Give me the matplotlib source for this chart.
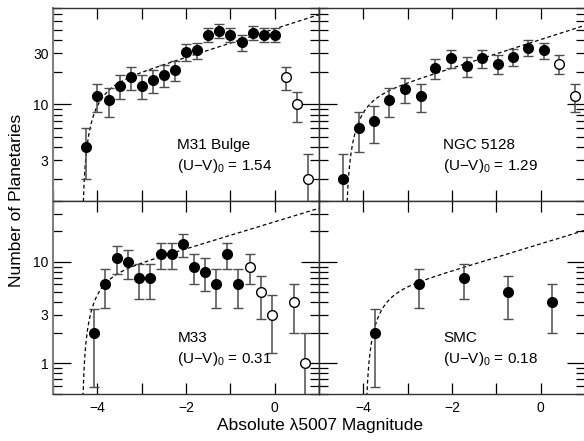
import numpy as np
import matplotlib
matplotlib.use('Agg')
from matplotlib import pyplot as plt
from matplotlib.ticker import FixedLocator, FuncFormatter, MultipleLocator, NullLocator

plt.rcParams['font.family'] = ['Liberation Sans', 'DejaVu Sans']
plt.rcParams['mathtext.fontset'] = 'custom'
plt.rcParams['mathtext.rm'] = 'Liberation Sans'
plt.rcParams['mathtext.it'] = 'Liberation Sans:italic'

# M31 bulge
m31X = [-4.25, -4.0, -3.75, -3.5, -3.25, -3.0, -2.75, -2.5, -2.25, -2.0,
        -1.75, -1.5, -1.25, -1.0, -0.75, -0.5, -0.25, 0.0]
m31N = [4, 12, 11, 15, 18, 15, 17, 19, 21, 31, 32, 45, 49, 45, 38, 47, 45, 45]
m31OpenX = [0.25, 0.5, 0.75]
m31OpenN = [18, 10, 2]

# NGC 5128
ngcX = [-4.47, -4.11, -3.76, -3.42, -3.06, -2.70, -2.38, -2.02, -1.67, -1.33,
        -0.97, -0.62, -0.29, 0.07]
ngcN = [2, 6, 7, 11, 14, 12, 22, 27, 23, 27, 24, 28, 34, 32]
ngcOpenX = [0.41, 0.76]
ngcOpenN = [24, 12]

# M33
m33X = [-4.07, -3.82, -3.57, -3.32, -3.07, -2.82, -2.57, -2.32, -2.07, -1.82,
        -1.57, -1.32, -1.07, -0.82]
m33N = [2, 6, 11, 10, 7, 7, 12, 12, 15, 9, 8, 6, 12, 6]
m33OpenX = [-0.57, -0.32, -0.07, 0.43, 0.68]
m33OpenN = [9, 5, 3, 4, 1]

# SMC
smcX = [-3.74, -2.74, -1.74, -0.74, 0.26]
smcN = [2, 6, 7, 5, 4]

# PNLF fit: cutoff M* and normalisation
fits = {'m31': (-4.35, 51.0), 'ngc': (-4.41, 40.5), 'm33': (-4.35, 24.9), 'smc': (-3.96, 15.1)}


def panel(ax, x, n, xo, no, fit, name, uv):
    mstar, c = fit
    m = np.linspace(mstar + 1e-4, 1.05, 600)
    ax.plot(m, c * np.exp(0.307 * m) * (1 - np.exp(3 * (mstar - m))), color='k',
            ls=(0, (3.0, 2.2)), lw=0.9, zorder=1)
    n = np.array(n, dtype=float)
    ax.errorbar(x, n, yerr=np.sqrt(n), fmt='o', color='k', ms=7, ecolor='0.3',
                elinewidth=1.1, capsize=3.5, capthick=1.0, zorder=3)
    if xo:
        no = np.array(no, dtype=float)
        ax.errorbar(xo, no, yerr=np.sqrt(no), fmt='o', mfc='white', mec='k', mew=1.0,
                    ms=7, ecolor='0.3', elinewidth=1.1, capsize=3.5, capthick=1.0, zorder=3)
    tr = ax.get_xaxis_transform()
    ax.text(-2.2, 0.29, name, transform=tr, va='center', fontsize=11)
    ax.text(-2.2, 0.18, '(U\u2212V)$_0$ = ' + uv, transform=tr, va='center', fontsize=11)


f, axarr = plt.subplots(2, 2, figsize=(5.84, 4.41), dpi=100, sharex=True, sharey='row')
f.subplots_adjust(left=0.091, right=1.002, top=0.982, bottom=0.107, wspace=0, hspace=0)

panel(axarr[0, 0], m31X, m31N, m31OpenX, m31OpenN, fits['m31'], 'M31 Bulge', '1.54')
panel(axarr[0, 1], ngcX, ngcN, ngcOpenX, ngcOpenN, fits['ngc'], 'NGC 5128', '1.29')
panel(axarr[1, 0], m33X, m33N, m33OpenX, m33OpenN, fits['m33'], 'M33', '0.31')
panel(axarr[1, 1], smcX, smcN, [], [], fits['smc'], 'SMC', '0.18')

minors = [k * 10.0 ** e for e in (-1, 0, 1) for k in range(2, 10)]


def xfmt(v, p):
    r = int(round(v))
    if abs(v - r) < 1e-6 and r in (-4, -2, 0):
        return str(r).replace('-', '\u2212')
    return ''


def minorFmt(shown):
    return FuncFormatter(lambda v, p: '%g' % v if round(v, 6) in shown else '')


for row, shown in zip(axarr, [(3, 30), (3,)]):
    for ax in row:
        ax.set_yscale('log')
        ax.set_xlim(-5, 1)
        ax.xaxis.set_major_locator(MultipleLocator(1))
        ax.xaxis.set_minor_locator(NullLocator())
        ax.xaxis.set_major_formatter(FuncFormatter(xfmt))
        ax.yaxis.set_major_locator(FixedLocator([0.1, 1, 10, 100]))
        ax.yaxis.set_minor_locator(FixedLocator(minors))
        ax.yaxis.set_major_formatter(FuncFormatter(lambda v, p: '%g' % v))
        ax.yaxis.set_minor_formatter(minorFmt(shown))
        ax.tick_params(which='both', direction='in', top=True, right=True, labelsize=10, width=0.9)
        ax.tick_params(axis='y', which='major', length=13)
        ax.tick_params(axis='y', which='minor', length=6.5)
        ax.tick_params(axis='x', which='major', length=8, pad=5)
        for s in ax.spines.values():
            s.set_linewidth(1.0)
            s.set_color('0.2')

axarr[0, 0].set_ylim(1.25, 80)
axarr[1, 0].set_ylim(0.5, 40)
for ax in axarr[:, 0]:
    ax.spines['left'].set_color('0.5')
    ax.spines['left'].set_linewidth(1.5)
for ax in axarr[:, 1]:
    ax.tick_params(which='both', labelleft=False)

f.text(0.0285, 0.5465, 'Number of Planetaries', rotation=90, ha='center', va='center', fontsize=12.5)
f.text(0.548, 0.036, 'Absolute \u03bb5007 Magnitude', ha='center', va='center', fontsize=12.5)

plt.savefig('out.png', dpi=100)
